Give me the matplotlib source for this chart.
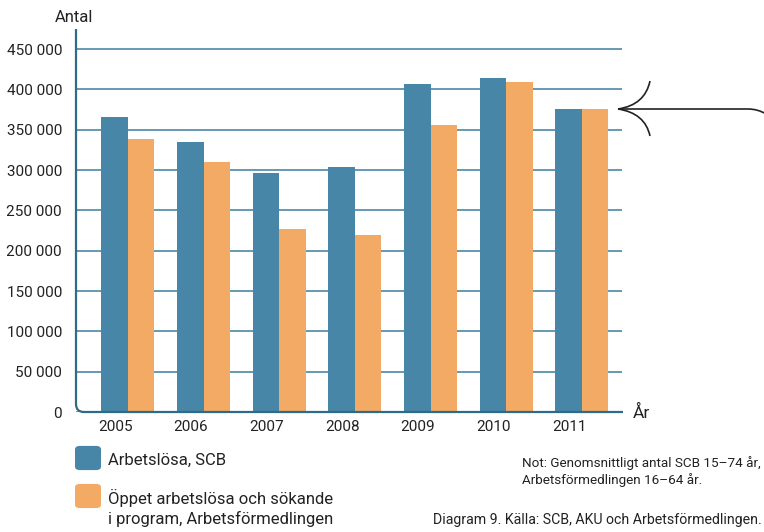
import matplotlib.pyplot as plt
import matplotlib.patches as mpatches
from matplotlib.path import Path
from matplotlib.ticker import FuncFormatter
import numpy as np

plt.rcParams['font.family'] = ['Roboto', 'DejaVu Sans']

# Data
years = ['2005', '2006', '2007', '2008', '2009', '2010', '2011']
scb = [366000, 335000, 296500, 304000, 407000, 414500, 376000]
af = [338700, 310200, 227000, 219600, 356000, 409500, 376000]
series_names = ['Arbetslösa, SCB',
                'Öppet arbetslösa och sökande\ni program, Arbetsförmedlingen']
y_ticks = list(range(0, 450001, 50000))

BLUE = '#4786a6'
ORANGE = '#f2aa64'
AXIS = '#2f6a86'
GRID = '#5a90ad'
TEXT = '#222222'

W, H = 764, 532


def px(x, y):
    # figure pixel -> figure fraction (y from top)
    return (x / W, 1 - y / H)


fig = plt.figure(figsize=(W / 100, H / 100), dpi=100)
ax_l, ax_r, ax_t, ax_b = 76, 622, 29, 412
ax = fig.add_axes([ax_l / W, 1 - ax_b / H, (ax_r - ax_l) / W, (ax_b - ax_t) / H])

x = np.arange(len(years))
bw = 0.35
ax.bar(x - bw / 2, scb, width=bw, color=BLUE, zorder=3)
ax.bar(x + bw / 2, af, width=bw, color=ORANGE, zorder=3)

ax.set_xlim(-0.687, 6.53)
ax.set_ylim(0, 475000)
ax.set_yticks(y_ticks)
ax.yaxis.set_major_formatter(FuncFormatter(lambda v, p: f"{int(v):,}".replace(',', ' ')))
ax.set_xticks(x - 0.17)
ax.set_xticklabels(years)
ax.tick_params(axis='both', length=0, labelsize=11, labelcolor=TEXT)
ax.tick_params(axis='y', pad=10)
ax.tick_params(axis='x', pad=6)
ax.yaxis.grid(True, color=GRID, linewidth=1.3, zorder=0)
ax.xaxis.grid(False)
ax.set_axisbelow(True)
for s in ax.spines.values():
    s.set_visible(False)

# axis frame with rounded corner
r = 8
verts = [px(ax_l, ax_t), px(ax_l, ax_b - r), px(ax_l, ax_b), px(ax_l + r, ax_b), px(623, ax_b)]
codes = [Path.MOVETO, Path.LINETO, Path.CURVE3, Path.CURVE3, Path.LINETO]
fig.add_artist(mpatches.PathPatch(Path(verts, codes), transform=fig.transFigure,
                                  fill=False, edgecolor=AXIS, linewidth=1.6, zorder=5))

fig.text(*px(55, 17), 'Antal', fontsize=12, color=TEXT, va='center', ha='left')
fig.text(*px(633, 413), 'År', fontsize=12.5, color=TEXT, va='center', ha='left')

# arrow pointing at 2011
tip = (618, 109)
arrow_parts = [
    ([px(*tip), px(645, 105), px(650, 81)], [Path.MOVETO, Path.CURVE3, Path.CURVE3]),
    ([px(*tip), px(645, 113), px(650, 136)], [Path.MOVETO, Path.CURVE3, Path.CURVE3]),
    ([px(*tip), px(748, 109), px(758, 109), px(766, 114)],
     [Path.MOVETO, Path.LINETO, Path.CURVE3, Path.CURVE3]),
]
for v, c in arrow_parts:
    fig.add_artist(mpatches.PathPatch(Path(v, c), transform=fig.transFigure,
                                      fill=False, edgecolor='#222222', linewidth=1.2))

# legend
for (y0, color, label) in [(445, BLUE, series_names[0]), (483, ORANGE, series_names[1])]:
    x0, y1 = px(75, y0 + 26)
    box = mpatches.FancyBboxPatch((x0 + 3 / W, y1 + 3 / H), 20 / W, 20 / H,
                                  boxstyle=mpatches.BoxStyle('Round', pad=3 / W, rounding_size=5 / W),
                                  transform=fig.transFigure, facecolor=color, edgecolor='none')
    fig.add_artist(box)
    n_lines = label.count('\n') + 1
    fig.text(*px(108, y0 + 15 + 10 * (n_lines - 1)), label, fontsize=12, color=TEXT,
             va='center', ha='left', linespacing=1.25)

fig.text(*px(522, 463), 'Not: Genomsnittligt antal SCB 15–74 år,', fontsize=9.7, color=TEXT,
         va='center', ha='left')
fig.text(*px(522, 480), 'Arbetsförmedlingen 16–64 år.', fontsize=9.7, color=TEXT,
         va='center', ha='left')
fig.text(*px(762, 520), 'Diagram 9. Källa: SCB, AKU och Arbetsförmedlingen.', fontsize=10.2,
         color=TEXT, va='center', ha='right')

fig.savefig('out.png', dpi=100)
